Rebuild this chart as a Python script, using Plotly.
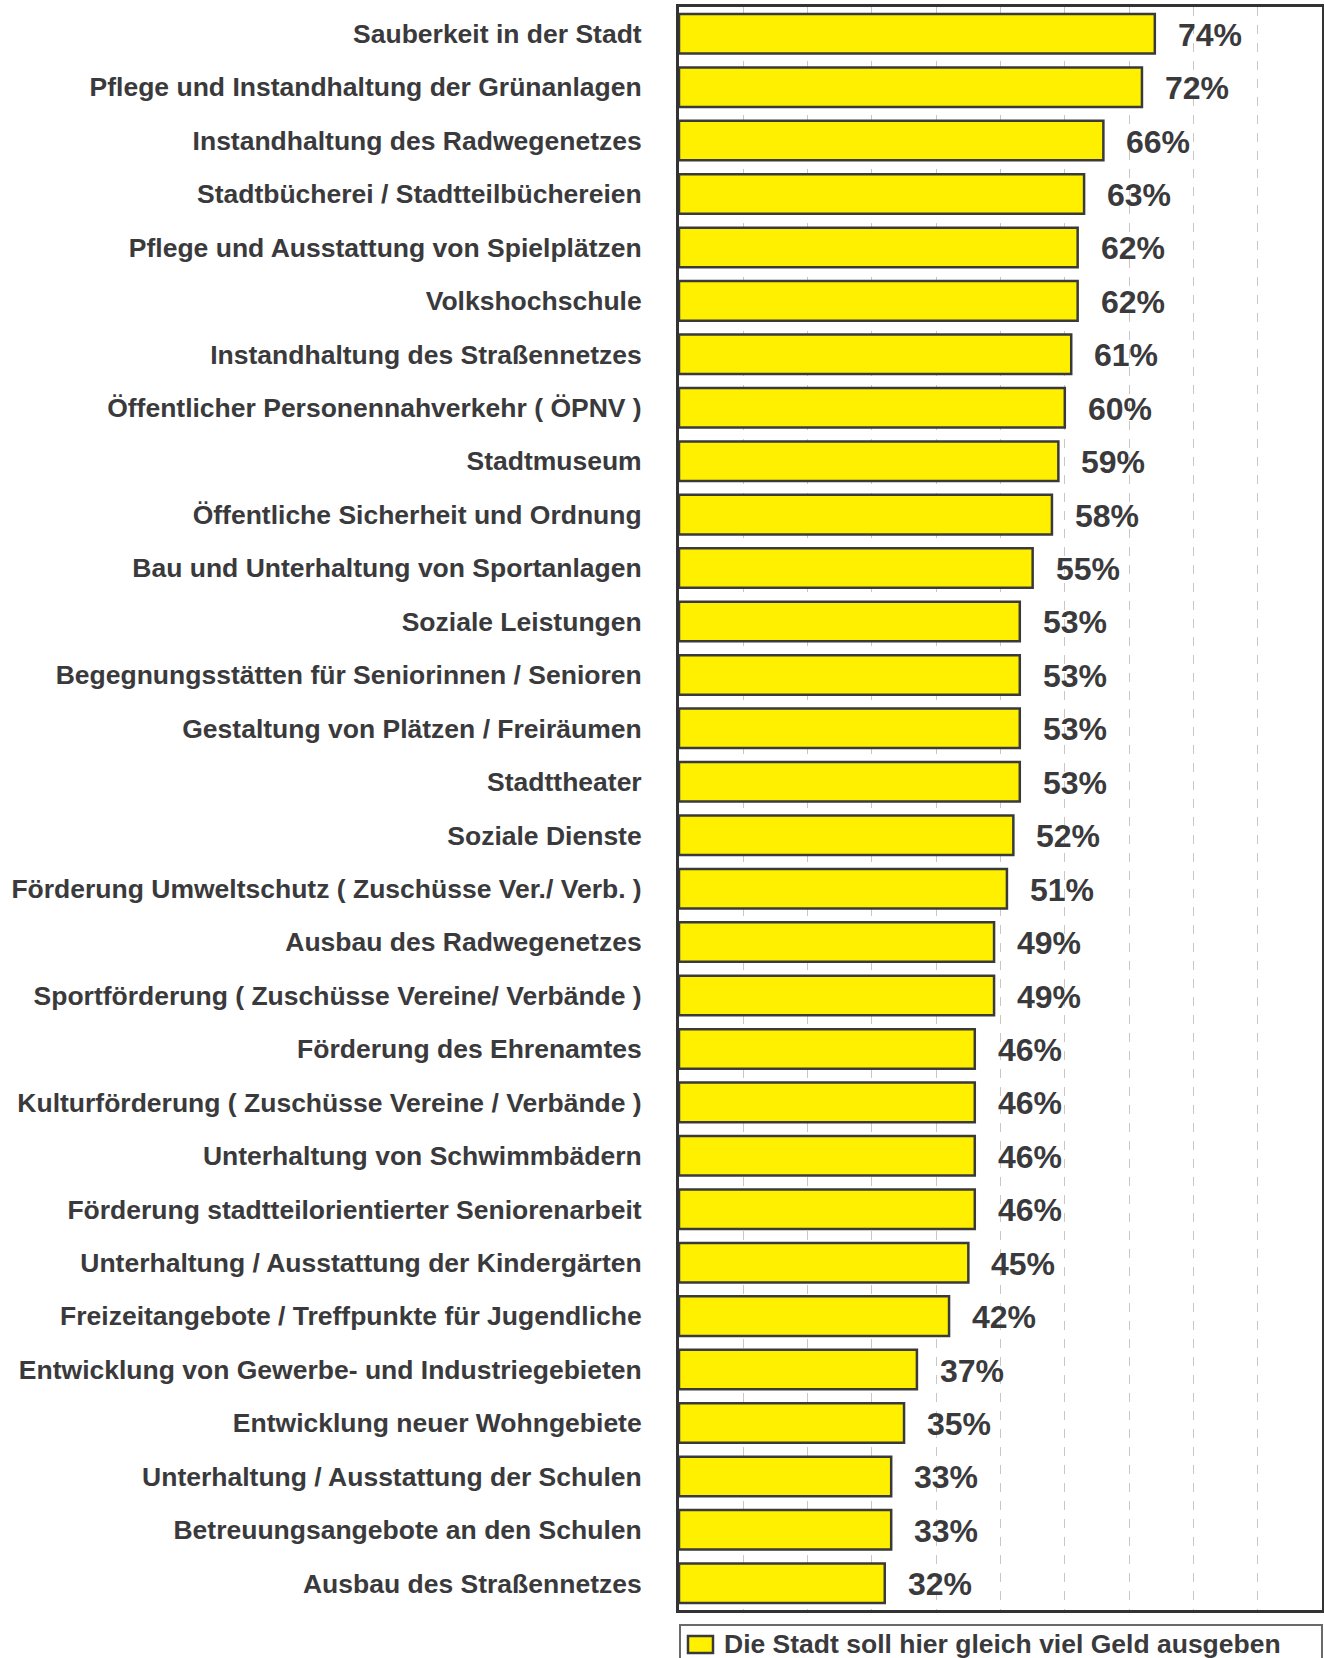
import plotly.graph_objects as go

categories = [
    "Sauberkeit in der Stadt",
    "Pflege und Instandhaltung der Grünanlagen",
    "Instandhaltung des Radwegenetzes",
    "Stadtbücherei / Stadtteilbüchereien",
    "Pflege und Ausstattung von Spielplätzen",
    "Volkshochschule",
    "Instandhaltung des Straßennetzes",
    "Öffentlicher Personennahverkehr ( ÖPNV )",
    "Stadtmuseum",
    "Öffentliche Sicherheit und Ordnung",
    "Bau und Unterhaltung von Sportanlagen",
    "Soziale Leistungen",
    "Begegnungsstätten für Seniorinnen / Senioren",
    "Gestaltung von Plätzen / Freiräumen",
    "Stadttheater",
    "Soziale Dienste",
    "Förderung Umweltschutz ( Zuschüsse Ver./ Verb. )",
    "Ausbau des Radwegenetzes",
    "Sportförderung ( Zuschüsse Vereine/ Verbände )",
    "Förderung des Ehrenamtes",
    "Kulturförderung ( Zuschüsse Vereine / Verbände )",
    "Unterhaltung von Schwimmbädern",
    "Förderung stadtteilorientierter Seniorenarbeit",
    "Unterhaltung / Ausstattung der Kindergärten",
    "Freizeitangebote / Treffpunkte für Jugendliche",
    "Entwicklung von Gewerbe- und Industriegebieten",
    "Entwicklung neuer Wohngebiete",
    "Unterhaltung / Ausstattung der Schulen",
    "Betreuungsangebote an den Schulen",
    "Ausbau des Straßennetzes",
]
values = [74, 72, 66, 63, 62, 62, 61, 60, 59, 58, 55, 53, 53, 53, 53, 52, 51,
          49, 49, 46, 46, 46, 46, 45, 42, 37, 35, 33, 33, 32]
series_name = "Die Stadt soll hier gleich viel Geld ausgeben"

TXT = "#3a3a3c"
FONT = "Liberation Sans, Arial, sans-serif"
YELLOW = "#FFF000"
EDGE = "#3a3a3a"

W, H = 1324, 1658
ML, MR, MT, MB = 679, 2, 7, 48
PW = W - ML - MR
PH = H - MT - MB


def px_x(X):
    return (X - ML) / PW


def px_y(Y):
    return (H - MB - Y) / PH


fig = go.Figure()
fig.add_trace(go.Bar(
    x=values, y=categories, orientation="h", name=series_name,
    marker=dict(color=YELLOW, line=dict(color=EDGE, width=2.5)),
    showlegend=False,
))

for c, v in zip(categories, values):
    fig.add_annotation(x=v, y=c, text=f"<b>{v}%</b>", showarrow=False,
                       xanchor="left", yanchor="middle", xshift=21, yshift=-1,
                       font=dict(size=32, color=TXT, family=FONT))

# legend box (drawn below the plot area, partly cut by the page edge as in the reference)
fig.add_shape(type="rect", xref="paper", yref="paper",
              x0=px_x(680), x1=px_x(1322), y0=px_y(1625), y1=px_y(1672),
              line=dict(color="#6a6a6a", width=2), fillcolor="white")
fig.add_shape(type="rect", xref="paper", yref="paper",
              x0=px_x(688), x1=px_x(713), y0=px_y(1636), y1=px_y(1653),
              line=dict(color=EDGE, width=2.5), fillcolor=YELLOW)
fig.add_annotation(xref="paper", yref="paper", x=px_x(722), y=px_y(1643.5),
                   xanchor="left", yanchor="middle", showarrow=False,
                   text=f"<b>{series_name}</b>",
                   font=dict(size=26.5, color=TXT, family=FONT))

fig.update_layout(
    width=W, height=H,
    margin=dict(l=ML, r=MR, t=MT, b=MB, autoexpand=False),
    plot_bgcolor="white", paper_bgcolor="white",
    bargap=0.26,
    showlegend=False,
    font=dict(family=FONT, color=TXT),
)
fig.update_xaxes(range=[0, 100], dtick=10, showticklabels=False,
                 showgrid=True, gridcolor="#cfc4c4", griddash="dash", gridwidth=1,
                 zeroline=False, showline=True, mirror=True,
                 linecolor="#333333", linewidth=3, fixedrange=True)
fig.update_yaxes(autorange="reversed", showgrid=False, showline=True, mirror=True,
                 linecolor="#333333", linewidth=3, ticks="",
                 ticklabelstandoff=29,
                 tickfont=dict(size=26.5, color=TXT, family=FONT),
                 tickprefix="<b>", ticksuffix="</b>")

fig.write_html("out.html")
